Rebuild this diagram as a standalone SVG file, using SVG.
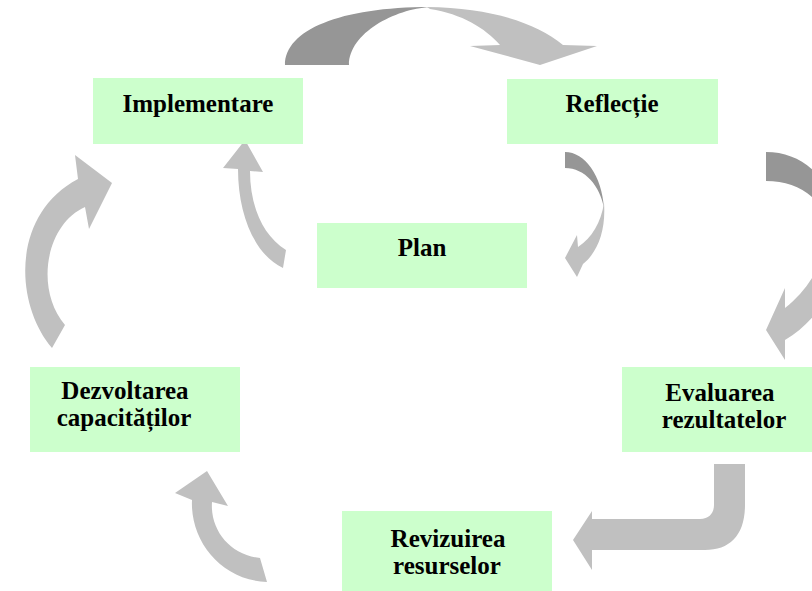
<svg xmlns="http://www.w3.org/2000/svg" width="812" height="591" viewBox="0 0 812 591">
<style>
.box{fill:#CCFFCC;stroke:none}
.t{font-family:"Liberation Serif","Times New Roman",serif;font-weight:bold;font-size:25px;fill:#000;text-anchor:middle}
.dk{fill:#969696;stroke:none}
.lt{fill:#C0C0C0;stroke:none}
</style>
<rect width="812" height="591" fill="#FFFFFF"/>
<g id="connectors">
<g id="arrow-top">
<path class="dk" d="M285,65 C285,30 340,7 430,7 C395,9 349,33 349,65 Z"/>
<path class="lt" d="M427,7 C490,8 535,22 563,45 L597,46 L540,65 L470,46 L500,45 C485,28 462,14 430,9 Z"/>
</g>
<g id="arrow-right-small">
<path class="dk" d="M565,152 C585,152 602,176 604,208 C600,186 585,168 565,168 Z"/>
<path class="lt" d="M604,203 C606,230 598,252 583,264 L577,277 L565,258 L577,235 L578,247 C592,238 601,222 604,203 Z"/>
</g>
<g id="arrow-right-big">
<path class="dk" d="M766,152 C795,152 818,168 832,196 L834,232 C824,200 800,181 766,181 Z"/>
<path class="lt" d="M828,240 C822,265 808,290 785,308 L785,288 L766,330 L785,360 L785,340 C815,322 835,292 845,252 Z"/>
</g>
<g id="arrow-bottom-right">
<path class="lt" d="M714,464 L745,464 L745,505 C745,535 730,550 705,550 L592,550 L592,570 L573,540 L592,511 L592,519 L700,519 C710,519 714,512 714,505 Z"/>
</g>
<g id="arrow-bottom-left">
<path class="lt" d="M207,471 L228,506 L212,502 C210,530 230,555 260,558 L267,582 C220,580 190,540 192,500 L175,493 Z"/>
</g>
<g id="arrow-left-big">
<path class="lt" d="M52,348 C15,305 10,215 78,179 L75,155 L112,183 L89,229 L85,207 C45,225 35,290 65,325 Z"/>
</g>
<g id="arrow-plan">
<path class="lt" d="M245,140 L263,172 L250,171 C250,205 262,235 286,250 L283,268 C255,255 238,215 238,169 L223,168 Z"/>
</g>
</g>
<g id="node-implementare">
<rect class="box" x="93" y="78" width="210" height="66"/>
<text class="t" x="198" y="112">Implementare</text>
</g>
<g id="node-reflectie">
<rect class="box" x="507" y="79" width="211" height="65"/>
<text class="t" x="612" y="112">Reflecție</text>
</g>
<g id="node-plan">
<rect class="box" x="317" y="223" width="210" height="65"/>
<text class="t" x="422" y="256">Plan</text>
</g>
<g id="node-dezvoltarea">
<rect class="box" x="30" y="367" width="210" height="85"/>
<text class="t" x="125" y="399">Dezvoltarea</text>
<text class="t" x="124" y="426">capacităților</text>
</g>
<g id="node-evaluarea">
<rect class="box" x="622" y="367" width="210" height="85"/>
<text class="t" x="720" y="401">Evaluarea</text>
<text class="t" x="724" y="428">rezultatelor</text>
</g>
<g id="node-revizuirea">
<rect class="box" x="342" y="511" width="210" height="80"/>
<text class="t" x="448" y="547">Revizuirea</text>
<text class="t" x="447" y="574">resurselor</text>
</g>
</svg>
